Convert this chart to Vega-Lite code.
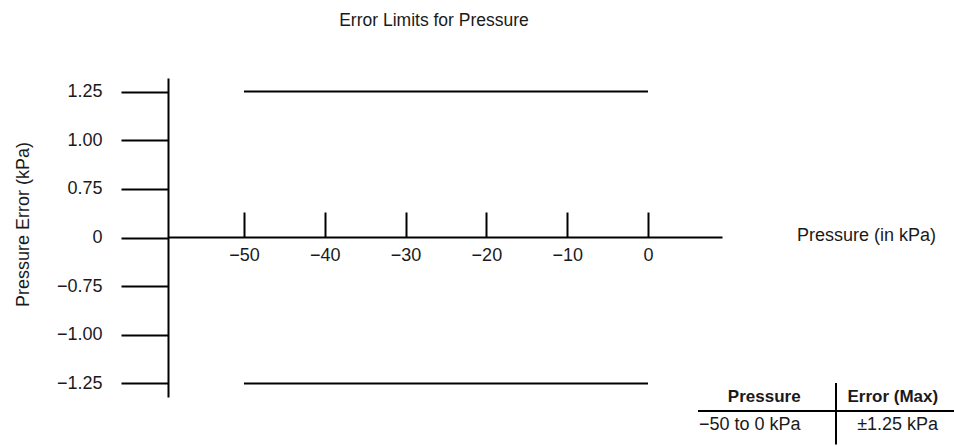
{
  "$schema": "https://vega.github.io/schema/vega-lite/v6.json",
  "width": 554,
  "height": 319,
  "autosize": {"type": "none"},
  "padding": {"left": 168, "top": 78, "right": 232, "bottom": 50},
  "background": "white",
  "config": {
    "view": {"stroke": null},
    "font": "Liberation Sans",
    "axis": {"grid": false, "domainColor": "black", "tickColor": "black", "domainWidth": 2, "tickWidth": 2, "labelColor": "#1a1a1a", "titleColor": "#1a1a1a", "labelFontSize": 18, "titleFontSize": 18, "titleFontWeight": "normal", "labelFlush": false, "labelOverlap": false}
  },
  "title": {"text": "Error Limits for Pressure", "frame": "group", "anchor": "middle", "dx": -11, "offset": 35, "baseline": "alphabetic", "fontSize": 17.5, "fontWeight": "normal", "color": "#1a1a1a"},
  "datasets": {
    "limits": [
      {"pressure_from": -50, "pressure_to": 0, "error": 1.25},
      {"pressure_from": -50, "pressure_to": 0, "error": -1.25}
    ],
    "table": [
      {"row": "header", "column": "Pressure", "text": "Pressure"},
      {"row": "header", "column": "Error (Max)", "text": "Error (Max)"},
      {"row": "body", "column": "Pressure", "text": "−50 to 0 kPa"},
      {"row": "body", "column": "Error (Max)", "text": "±1.25 kPa"}
    ]
  },
  "layer": [
    {
      "data": {"name": "limits"},
      "mark": {"type": "rule", "strokeWidth": 2, "color": "black"},
      "encoding": {
        "x": {
          "field": "pressure_from", "type": "quantitative",
          "scale": {"domain": [-59.4, 9.16], "nice": false, "zero": false},
          "axis": {"title": "Pressure (in kPa)", "values": [-50, -40, -30, -20, -10, 0], "format": "d", "offset": -160, "tickSize": -25, "labelPadding": 43, "labelBaseline": "middle", "titleX": 698, "titleY": -2, "titleAlign": "center", "titleBaseline": "middle", "titleAngle": 0}
        },
        "x2": {"field": "pressure_to"},
        "y": {
          "field": "error", "type": "ordinal",
          "scale": {"type": "point", "domain": [1.25, 1, 0.75, 0, -0.75, -1, -1.25], "padding": 0.28},
          "axis": {"title": "Pressure Error (kPa)", "labelExpr": "datum.value === 0 ? '0' : format(datum.value, '.2f')", "tickSize": 47, "labelPadding": 19, "titleX": -145, "titleY": 146, "titleAngle": -90, "titleAlign": "center", "titleBaseline": "middle"}
        }
      }
    },
    {
      "data": {"name": "table"},
      "encoding": {
        "x": {"field": "column", "type": "nominal", "scale": {"type": "band", "domain": ["Pressure", "Error (Max)"], "range": [530, 806], "paddingInner": 0, "paddingOuter": 0}, "axis": null},
        "y": {"field": "row", "type": "nominal", "scale": {"type": "band", "domain": ["header", "body"], "range": [305, 361], "paddingInner": 0, "paddingOuter": 0}, "axis": null}
      },
      "layer": [
        {
          "transform": [{"filter": "datum.row === 'header' && datum.column === 'Pressure'"}],
          "mark": {"type": "text", "align": "center", "baseline": "middle", "fontSize": 17, "fontWeight": "bold", "color": "#1a1a1a"},
          "encoding": {
            "x": {"field": "column", "type": "nominal", "bandPosition": 0.48},
            "y": {"field": "row", "type": "nominal", "bandPosition": 0.5},
            "text": {"field": "text"}
          }
        },
        {
          "transform": [{"filter": "datum.row === 'header' && datum.column === 'Error (Max)'"}],
          "mark": {"type": "text", "align": "right", "baseline": "middle", "fontSize": 17, "fontWeight": "bold", "color": "#1a1a1a"},
          "encoding": {
            "x": {"field": "column", "type": "nominal", "bandPosition": 0.74},
            "y": {"field": "row", "type": "nominal", "bandPosition": 0.5},
            "text": {"field": "text"}
          }
        },
        {
          "transform": [{"filter": "datum.row === 'body' && datum.column === 'Pressure'"}],
          "mark": {"type": "text", "align": "left", "baseline": "middle", "fontSize": 18, "dx": 1, "color": "#1a1a1a"},
          "encoding": {
            "x": {"field": "column", "type": "nominal", "bandPosition": 0},
            "y": {"field": "row", "type": "nominal", "bandPosition": 0.5},
            "text": {"field": "text"}
          }
        },
        {
          "transform": [{"filter": "datum.row === 'body' && datum.column === 'Error (Max)'"}],
          "mark": {"type": "text", "align": "right", "baseline": "middle", "fontSize": 18, "color": "#1a1a1a"},
          "encoding": {
            "x": {"field": "column", "type": "nominal", "bandPosition": 0.74},
            "y": {"field": "row", "type": "nominal", "bandPosition": 0.5},
            "text": {"field": "text"}
          }
        },
        {
          "transform": [{"filter": "datum.row === 'body'"}],
          "mark": {"type": "rule", "strokeWidth": 2, "color": "black"},
          "encoding": {
            "x": {"field": "column", "type": "nominal", "bandPosition": 0},
            "x2": {"field": "column", "bandPosition": 1},
            "y": {"field": "row", "type": "nominal", "bandPosition": 0}
          }
        },
        {
          "transform": [{"filter": "datum.column === 'Error (Max)'"}],
          "mark": {"type": "rule", "strokeWidth": 2, "color": "black"},
          "encoding": {
            "x": {"field": "column", "type": "nominal", "bandPosition": 0},
            "y": {"field": "row", "type": "nominal", "bandPosition": 0},
            "y2": {"field": "row", "bandPosition": 1.2}
          }
        }
      ]
    }
  ],
  "resolve": {"scale": {"x": "independent", "y": "independent"}}
}
